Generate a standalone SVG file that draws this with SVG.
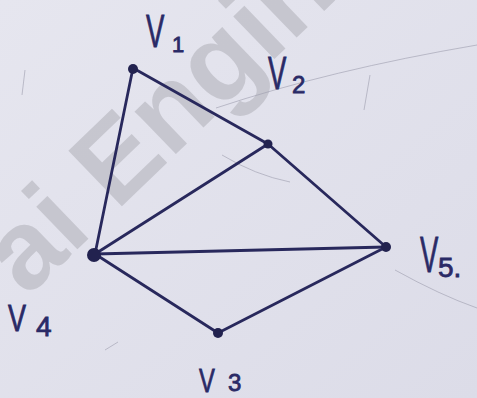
<svg xmlns="http://www.w3.org/2000/svg" width="477" height="398" viewBox="0 0 477 398">
<style>
.edge{stroke:#28285c;stroke-width:2.8;stroke-linecap:round;fill:none}
.node{fill:#22224f}
.lbl{font-family:"Liberation Sans",Arial,sans-serif;fill:#2a2a66;stroke:#2a2a66;stroke-width:0.8}
.faint{stroke:#9c9cae;stroke-width:1;fill:none;opacity:0.6}
.wm{font-family:"Liberation Sans",Arial,sans-serif;font-weight:bold;font-size:112px;fill:#b4b4bc;opacity:0.6}
</style>
<defs>
<linearGradient id="paper" x1="0" y1="0" x2="1" y2="1">
<stop offset="0" stop-color="#e6e6ef"/>
<stop offset="1" stop-color="#dcdce8"/>
</linearGradient>
</defs>
<rect width="477" height="398" fill="url(#paper)"/>
<text class="wm" x="27" y="298" transform="rotate(-44 27 298)">ai Engin</text>
<g id="marks">
<path class="faint" d="M216 108 Q330 70 477 45"/>
<path class="faint" d="M222 155 Q255 175 290 182"/>
<path class="faint" d="M395 270 Q440 295 477 308"/>
<path class="faint" d="M25 70 L22 95"/>
<path class="faint" d="M370 75 L364 110"/>
<path class="faint" d="M105 350 L118 342"/>
</g>
<g id="connectors">
<line class="edge" x1="133" y1="68" x2="268" y2="144"/>
<line class="edge" x1="268" y1="144" x2="386" y2="247"/>
<line class="edge" x1="133" y1="68" x2="95" y2="254"/>
<line class="edge" x1="268" y1="144" x2="95" y2="254"/>
<line class="edge" x1="95" y1="254" x2="386" y2="247"/>
<line class="edge" x1="95" y1="254" x2="218" y2="333"/>
<line class="edge" x1="218" y1="333" x2="386" y2="247"/>
</g>
<g id="v1"><circle class="node" cx="133" cy="69" r="5"/>
<text class="lbl" transform="translate(146 47) scale(0.6 1)" font-size="46">V</text>
<text class="lbl" x="172" y="52" font-size="22">1</text></g>
<g id="v2"><circle class="node" cx="268" cy="144" r="4.5"/>
<text class="lbl" transform="translate(268 89) scale(0.6 1)" font-size="46">V</text>
<text class="lbl" x="292" y="93" font-size="24">2</text></g>
<g id="v5"><circle class="node" cx="386" cy="247" r="5"/>
<text class="lbl" transform="translate(420 272) scale(0.55 1)" font-size="50">V</text>
<text class="lbl" x="438" y="277" font-size="28">5.</text></g>
<g id="v4"><circle class="node" cx="94" cy="255" r="7"/>
<text class="lbl" transform="translate(8 331) scale(0.75 1)" font-size="36">V</text>
<text class="lbl" x="36" y="336" font-size="28">4</text></g>
<g id="v3"><circle class="node" cx="218" cy="333" r="5"/>
<text class="lbl" transform="translate(199 392) scale(0.7 1)" font-size="34">V</text>
<text class="lbl" x="228" y="391" font-size="24">3</text></g>
</svg>
